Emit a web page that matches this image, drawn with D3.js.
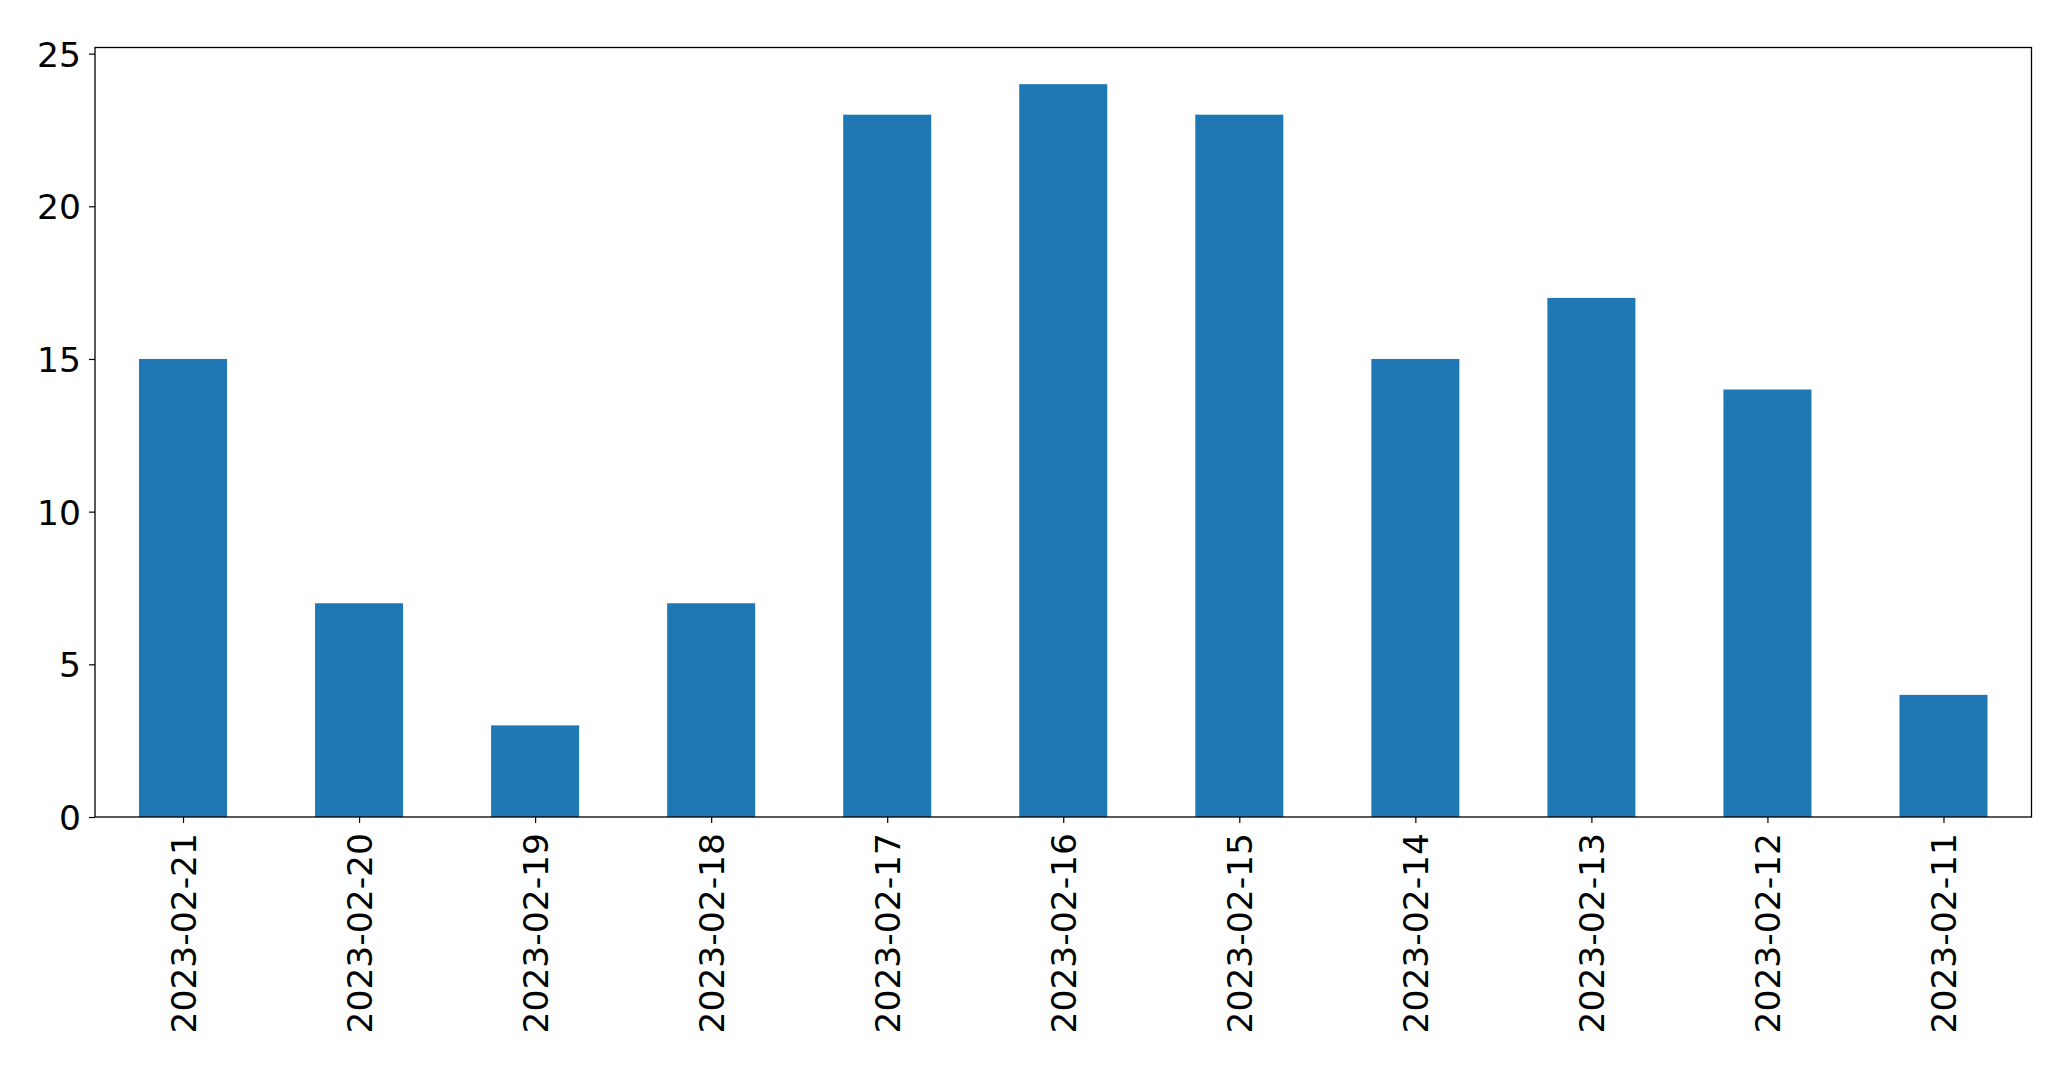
<!DOCTYPE html>
<html>
<head>
<meta charset="utf-8">
<script src="https://cdn.jsdelivr.net/npm/d3@7"></script>
<style>
  body { margin: 0; background: #fff; }
  text { font-family: "DejaVu Sans", sans-serif; }
</style>
</head>
<body>
<script>
// data
var dates = ["2023-02-21", "2023-02-20", "2023-02-19", "2023-02-18", "2023-02-17",
             "2023-02-16", "2023-02-15", "2023-02-14", "2023-02-13", "2023-02-12", "2023-02-11"];
var counts = [15, 7, 3, 7, 23, 24, 23, 15, 17, 14, 4];
var yTicks = [0, 5, 10, 15, 20, 25];

var W = 2071, H = 1069;
var margin = {top: 47.5, right: 39.5, bottom: 252, left: 95},
    width = W - margin.left - margin.right,
    height = H - margin.top - margin.bottom;

var svg = d3.select("body").append("svg")
    .attr("width", W)
    .attr("height", H);

var g = svg.append("g")
    .attr("transform", "translate(" + margin.left + "," + margin.top + ")");

// x: bar centres at 0..n-1, axis from -0.5 to n-0.5 like matplotlib
var x = d3.scaleLinear()
    .domain([-0.5, dates.length - 0.5])
    .range([0, width]);

var y = d3.scaleLinear()
    .domain([0, d3.max(counts) * 1.05])
    .range([height, 0]);

var barW = x(0.25) - x(-0.25);

// bars
g.selectAll(".bar")
    .data(counts)
  .enter().append("rect")
    .attr("class", "bar")
    .attr("x", function(d, i) { return x(i) - barW / 2; })
    .attr("y", function(d) { return y(d); })
    .attr("width", barW)
    .attr("height", function(d) { return height - y(d); })
    .style("fill", "#1f77b4");

// y axis
var yAxis = g.append("g")
    .call(d3.axisLeft(y).tickValues(yTicks).tickSize(6).tickPadding(8));
yAxis.select(".domain").remove();
yAxis.selectAll("text")
    .style("font-size", "34.5px")
    .attr("dy", "0.36em")
    .attr("fill", "#000");
yAxis.selectAll("line").attr("stroke", "#000").attr("stroke-width", 1.2);

// x axis with rotated labels
var xAxis = g.append("g")
    .attr("transform", "translate(0," + height + ")")
    .call(d3.axisBottom(x).tickValues(d3.range(dates.length))
      .tickFormat(function(i) { return dates[i]; }).tickSize(6).tickPadding(0));
xAxis.select(".domain").remove();
xAxis.selectAll("line").attr("stroke", "#000").attr("stroke-width", 1.2);
xAxis.selectAll("text")
    .style("font-size", "34.5px")
    .attr("fill", "#000")
    .attr("text-anchor", "end")
    .attr("y", 0)
    .attr("dy", "0")
    .attr("transform", "translate(12,16) rotate(-90)");

// frame
g.append("rect")
    .attr("width", width)
    .attr("height", height)
    .attr("fill", "none")
    .attr("stroke", "#000")
    .attr("stroke-width", 1.3);
</script>
</body>
</html>
